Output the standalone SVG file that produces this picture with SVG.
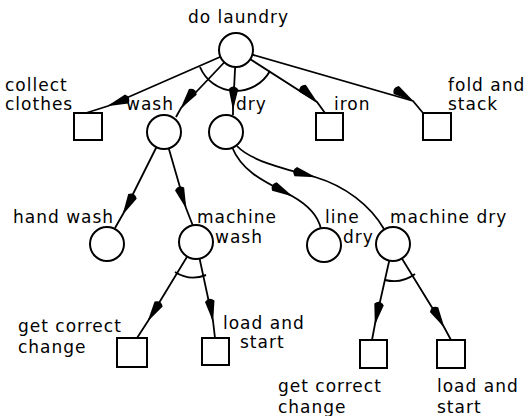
<svg xmlns="http://www.w3.org/2000/svg" width="525" height="416" viewBox="0 0 525 416">
<style>
text{font-family:"DejaVu Sans","Liberation Sans",sans-serif;font-size:17px;fill:#000;letter-spacing:1px}
.n{fill:#fff;stroke:#000;stroke-width:2}
.e{fill:none;stroke:#000;stroke-width:1.8;marker-mid:url(#ah)}
.arc{fill:none;stroke:#000;stroke-width:1.9}
</style>
<defs>
<marker id="ah" markerUnits="userSpaceOnUse" markerWidth="30" markerHeight="14" viewBox="-28 -7 30 14" refX="0" refY="0" orient="auto">
<path d="M1 0 L-20 -4.8 Q-25 0 -20 4.8 Z" fill="#000"/>
</marker>
</defs>
<g id="connectors">
<path class="e" d="M236 50 L108 106 L86 113"/>
<path class="e" d="M236 50 L181 108 L176 117"/>
<path class="e" d="M236 50 L233 109 L233 115"/>
<path class="e" d="M236 50 L317 102 L325 113"/>
<path class="e" d="M236 50 L413 101 L423 113"/>
<path class="arc" d="M200 67 A39 39 0 0 0 270 71"/>
<path class="e" d="M164 132 L123 214 L115 228"/>
<path class="e" d="M164 132 L186 208 L193 226"/>
<path class="e" d="M232 147 C242 172 265 182 292 196 C308 205 318 215 321 229"/>
<path class="e" d="M237 146 C250 160 280 168 315 177 C345 186 370 205 384 229"/>
<path class="e" d="M196 242 L148 321 L137 338"/>
<path class="e" d="M196 242 L213 321 L215 338"/>
<path class="arc" d="M175 272 A34 34 0 0 0 206 275"/>
<path class="e" d="M393 244 L375 324 L372 340"/>
<path class="e" d="M393 244 L444 327 L451 340"/>
<path class="arc" d="M385 280 A36 36 0 0 0 415 274"/>
</g>
<g id="do-laundry"><circle class="n" cx="236" cy="50" r="17"/><text x="188" y="23">do laundry</text></g>
<g id="collect-clothes"><rect class="n" x="74" y="113" width="28" height="27"/><text x="5" y="91">collect</text><text x="5" y="110">clothes</text></g>
<g id="wash"><circle class="n" cx="164" cy="132" r="17"/><text x="126" y="110">wash</text></g>
<g id="dry"><circle class="n" cx="226" cy="132" r="17"/><text x="236" y="110">dry</text></g>
<g id="iron"><rect class="n" x="316" y="113" width="27" height="27"/><text x="334" y="110">iron</text></g>
<g id="fold-and-stack"><rect class="n" x="423" y="113" width="28" height="27"/><text x="448" y="91">fold and</text><text x="448" y="110">stack</text></g>
<g id="hand-wash"><circle class="n" cx="107" cy="244" r="17"/><text x="13" y="223">hand wash</text></g>
<g id="machine-wash"><circle class="n" cx="196" cy="242" r="17"/><text x="197" y="223">machine</text><text x="215" y="243">wash</text></g>
<g id="line-dry"><circle class="n" cx="324" cy="245" r="17"/><text x="325" y="223">line</text><text x="343" y="243">dry</text></g>
<g id="machine-dry"><circle class="n" cx="393" cy="244" r="17"/><text x="390" y="223">machine dry</text></g>
<g id="get-correct-change-1"><rect class="n" x="117" y="338" width="30" height="29"/><text x="18" y="332">get correct</text><text x="18" y="353">change</text></g>
<g id="load-and-start-1"><rect class="n" x="202" y="338" width="27" height="27"/><text x="223" y="329">load and</text><text x="240" y="348">start</text></g>
<g id="get-correct-change-2"><rect class="n" x="360" y="340" width="27" height="28"/><text x="278" y="392">get correct</text><text x="278" y="413">change</text></g>
<g id="load-and-start-2"><rect class="n" x="437" y="340" width="28" height="28"/><text x="437" y="392">load and</text><text x="437" y="413">start</text></g>
</svg>
